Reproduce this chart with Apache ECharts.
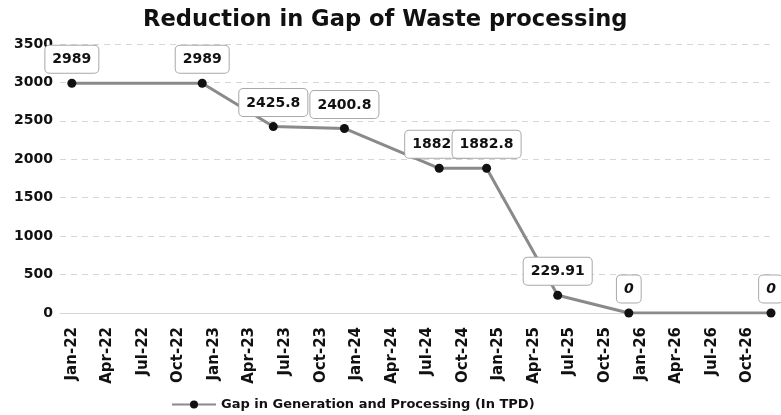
<!DOCTYPE html>
<html>
<head>
<meta charset="utf-8">
<title>Reduction in Gap of Waste processing</title>
<script src="https://cdn.jsdelivr.net/npm/echarts@6/dist/echarts.min.js"></script>
<style>
  html, body { margin: 0; padding: 0; background: #fff; }
  #chart { width: 781px; height: 415px; }
</style>
</head>
<body>
<div id="chart"></div>
<script>
  'use strict'

  // month axis: Dec-21 .. Dec-26, labels every quarter
  var monthNames = ['Jan', 'Feb', 'Mar', 'Apr', 'May', 'Jun', 'Jul', 'Aug', 'Sep', 'Oct', 'Nov', 'Dec'];
  var months = ['Dec-21'];
  for (var y = 22; y <= 26; y++) {
    for (var m = 0; m < 12; m++) months.push(monthNames[m] + '-' + y);
  }

  var pointMonths = ['Jan-22', 'Dec-22', 'Jun-23', 'Dec-23', 'Aug-24', 'Dec-24', 'Jun-25', 'Dec-25', 'Dec-26'];
  var gapValues = [2989, 2989, 2425.8, 2400.8, 1882.8, 1882.8, 229.91, 0, 0];
  var yTicks = [0, 500, 1000, 1500, 2000, 2500, 3000, 3500];

  var seriesData = pointMonths.map(function (mo, i) {
    var item = { value: [mo, gapValues[i]] };
    if (gapValues[i] === 0) item.label = { fontStyle: 'italic' };
    return item;
  });

  var FONT = 'DejaVu Sans';

  var chart = echarts.init(document.getElementById('chart'));

  var option = {
    backgroundColor: '#fff',
    animation: false,
    title: {
      text: 'Reduction in Gap of Waste processing',
      left: 138,
      top: 4,
      textStyle: {
        fontFamily: FONT,
        fontSize: 22.6,
        fontWeight: 'bold',
        color: '#111'
      }
    },
    grid: {
      top: 44,
      right: 10,
      bottom: 102,
      left: 60
    },
    legend: {
      left: 166,
      top: 393,
      itemWidth: 44,
      itemHeight: 10,
      itemGap: 4,
      textStyle: {
        fontFamily: FONT,
        fontSize: 13,
        fontWeight: 'bold',
        color: '#111'
      }
    },
    xAxis: {
      type: 'category',
      data: months,
      boundaryGap: false,
      axisTick: { show: false },
      axisLine: { lineStyle: { color: '#d6d6d6' } },
      axisLabel: {
        rotate: 90,
        margin: 14,
        interval: function (idx) { return idx % 3 === 1 && idx < months.length - 1; },
        fontFamily: FONT,
        fontSize: 15,
        fontWeight: 'bold',
        color: '#111'
      },
      splitLine: { show: false }
    },
    yAxis: {
      type: 'value',
      min: yTicks[0],
      max: yTicks[yTicks.length - 1],
      interval: 500,
      axisLine: { show: false },
      axisTick: { show: false },
      axisLabel: {
        margin: 7,
        formatter: function (v) { return String(v); },
        fontFamily: FONT,
        fontSize: 14,
        fontWeight: 'bold',
        color: '#111'
      },
      splitLine: {
        lineStyle: { color: '#d6d6d6', type: [6, 5] }
      }
    },
    series: [
      {
        name: 'Gap in Generation and Processing (In TPD)',
        type: 'line',
        data: seriesData,
        symbol: 'circle',
        symbolSize: 9,
        showSymbol: true,
        showAllSymbol: true,
        lineStyle: { color: '#8a8a8a', width: 3 },
        itemStyle: { color: '#111' },
        labelLayout: { hideOverlap: false },
        label: {
          show: true,
          position: 'top',
          distance: 6,
          formatter: function (p) { return p.value[1]; },
          backgroundColor: '#fff',
          borderColor: '#a8a8a8',
          borderWidth: 1,
          borderRadius: 4,
          padding: [7, 7, 6, 7],
          fontFamily: FONT,
          fontSize: 14,
          fontWeight: 'bold',
          color: '#111'
        }
      }
    ]
  };
  chart.setOption(option);
</script>
</body>
</html>
